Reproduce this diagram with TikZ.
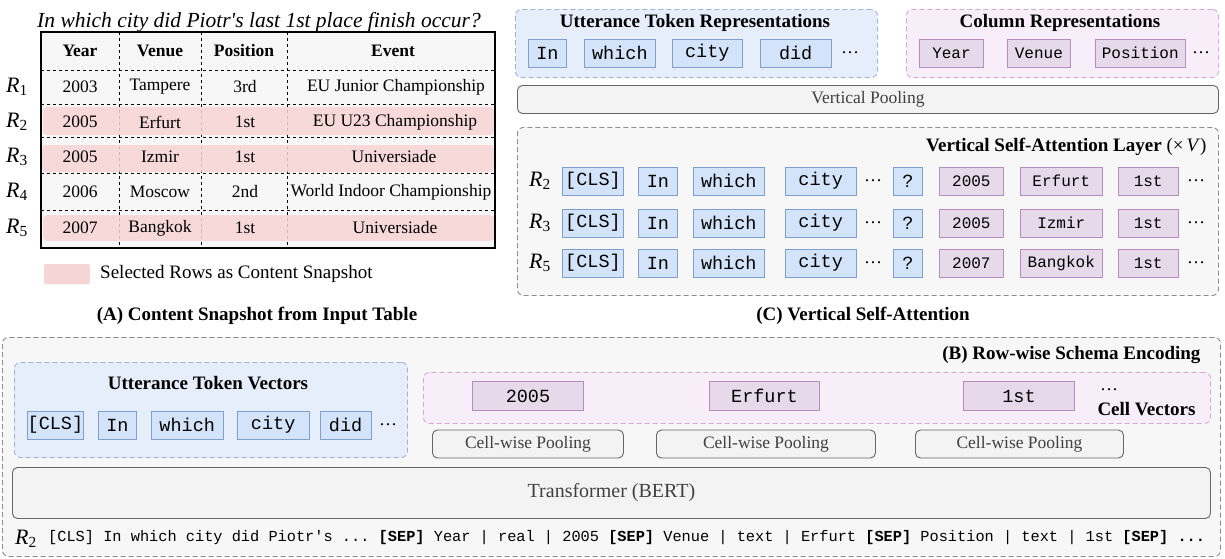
\documentclass[tikz,border=0pt]{standalone}
\usepackage{fontspec}
\setmainfont{Liberation Serif}
\setmonofont{Liberation Mono}
\usetikzlibrary{positioning}

\definecolor{grpblue}{HTML}{E6EEFB}
\definecolor{grpblueline}{HTML}{9DB4D8}
\definecolor{tokblue}{HTML}{D3E4FA}
\definecolor{tokblueline}{HTML}{7E9FCF}
\definecolor{grppink}{HTML}{F8EEFA}
\definecolor{grppinkline}{HTML}{D9A8CE}
\definecolor{tokpurple}{HTML}{E6D9E9}
\definecolor{tokpurpleline}{HTML}{B38EBF}
\definecolor{rowpink}{HTML}{F7D4D5}
\definecolor{poolgray}{HTML}{F3F3F3}

\begin{document}
\begin{tikzpicture}[x=1pt,y=-1pt,
node distance=15pt,
grp/.style={rounded corners=6pt,dash pattern=on 5pt off 3pt,line width=0.9pt,inner sep=0pt},
ugrp/.style={grp,draw=grpblueline,fill=grpblue},
cgrp/.style={grp,draw=grppinkline,fill=grppink},
ggrp/.style={grp,draw=black!45,fill=black!3},
utok/.style={draw=tokblueline,fill=tokblue,line width=0.9pt,minimum height=28pt,inner sep=0pt,font=\ttfamily\fontsize{18.5}{20}\selectfont},
ctok/.style={utok,draw=tokpurpleline,fill=tokpurple,font=\ttfamily\fontsize{16}{18}\selectfont},
pool/.style={draw=black!60,fill=poolgray,rounded corners=5pt,line width=0.9pt,inner sep=0pt,text=black!75,font=\fontsize{17.5}{20}\selectfont},
ttl/.style={font=\bfseries\fontsize{19}{21}\selectfont},
cell/.style={font=\fontsize{17.5}{20}\selectfont},
hcell/.style={font=\bfseries\fontsize{17.5}{20}\selectfont},
rlab/.style={font=\fontsize{22}{23}\selectfont},
dots/.style={font=\fontsize{18}{20}\selectfont},
tline/.style={dash pattern=on 3pt off 3pt,line width=1pt}]
\useasboundingbox (0,0) rectangle (1225,558);

% (A) content snapshot
\node[font=\itshape\fontsize{21.5}{23}\selectfont] (question) at (259,22) {In which city did Piotr\textquotesingle s last 1st place finish occur?};
\fill[black!3] (41,32) rectangle (495,248);
\draw[tline] (41,70) -- (495,70) (41,104) -- (495,104) (41,137) -- (495,137) (41,173) -- (495,173) (41,210) -- (495,210);
\draw[tline] (119,32) -- (119,248) (201,32) -- (201,248) (287,32) -- (287,248);
\fill[rowpink,opacity=0.85,rounded corners=4pt] (43,107) rectangle (494,135) (42,145) rectangle (494,172) (43,215) rectangle (494,241);
\draw[line width=1.2pt] (41,32) rectangle (495,248);
\node[hcell] (hyear) at (80,51) {Year};
\node[hcell] (hvenue) at (160,51) {Venue};
\node[hcell] (hpos) at (244,51) {Position};
\node[hcell] (hevent) at (393,51) {Event};
\node[rlab] (ra1) at (17,87) {\textit{R}\textsubscript{1}};
\node[cell] (y1) at (80,87) {2003};
\node[cell] (v1) at (160,87) {Tampere};
\node[cell] (p1) at (245,87) {3rd};
\node[cell] (e1) at (396,87) {EU Junior Championship};
\node[rlab] (ra2) at (17,122) {\textit{R}\textsubscript{2}};
\node[cell] (y2) at (80,122) {2005};
\node[cell] (v2) at (160,122) {Erfurt};
\node[cell] (p2) at (245,122) {1st};
\node[cell] (e2) at (395,122) {EU U23 Championship};
\node[rlab] (ra3) at (17,157) {\textit{R}\textsubscript{3}};
\node[cell] (y3) at (80,157) {2005};
\node[cell] (v3) at (160,157) {Izmir};
\node[cell] (p3) at (245,157) {1st};
\node[cell] (e3) at (394,157) {Universiade};
\node[rlab] (ra4) at (17,192) {\textit{R}\textsubscript{4}};
\node[cell] (y4) at (80,192) {2006};
\node[cell] (v4) at (160,192) {Moscow};
\node[cell] (p4) at (245,192) {2nd};
\node[cell] (e4) at (391,192) {World Indoor Championship};
\node[rlab] (ra5) at (17,228) {\textit{R}\textsubscript{5}};
\node[cell] (y5) at (80,228) {2007};
\node[cell] (v5) at (160,228) {Bangkok};
\node[cell] (p5) at (245,228) {1st};
\node[cell] (e5) at (395,228) {Universiade};
\node[fill=rowpink,rounded corners=2pt,minimum width=46pt,minimum height=20pt,inner sep=0pt] (legbox) at (67,274) {};
\node[right=6.5pt of legbox,font=\fontsize{19}{21}\selectfont] (legtext) {Selected Rows as Content Snapshot};
\node[ttl] (capa) at (257,316) {(A) Content Snapshot from Input Table};

% (C) vertical self-attention
\node[ugrp,minimum width=362pt,minimum height=68pt,anchor=north west] (utrep) at (515,9) {};
\node[ttl] (utreptitle) at (695,23) {Utterance Token Representations};
\node[utok,minimum width=38pt,anchor=west] (tin) at (528,53) {In};
\node[utok,minimum width=71pt,right=17pt of tin] (twhich) {which};
\node[utok,minimum width=70pt,right=16pt of twhich] (tcity) {city};
\node[utok,minimum width=71pt,right=17pt of tcity] (tdid) {did};
\node[dots] (tdots) at (850,53) {\dots};
\node[cgrp,minimum width=312pt,minimum height=68pt,anchor=north west] (colrep) at (906,9) {};
\node[ttl] (colreptitle) at (1060,23) {Column Representations};
\node[ctok,minimum width=64pt,anchor=west] (cyear) at (919,53) {Year};
\node[ctok,minimum width=63pt,right=23pt of cyear] (cvenue) {Venue};
\node[ctok,minimum width=90pt,right=24pt of cvenue] (cpos) {Position};
\node[dots] (cdots) at (1201,53) {\dots};
\node[pool,minimum width=701pt,minimum height=28pt,anchor=north west] (vpool) at (517,85) {Vertical Pooling};
\node[ggrp,minimum width=701pt,minimum height=168pt,anchor=north west] (vsa) at (517,127) {};
\node[anchor=east,font=\fontsize{19}{21}\selectfont] (vsatitle) at (1210,147) {\textbf{Vertical Self-Attention Layer} (×\,\textit{V})};
% row R2
\node[rlab] (rc2) at (540,181) {\textit{R}\textsubscript{2}};
\node[utok,minimum width=61pt,anchor=west] (cls2) at (562,181) {[CLS]};
\node[utok,minimum width=39pt,right=14pt of cls2] (in2) {In};
\node[utok,minimum width=71pt,right=15pt of in2] (which2) {which};
\node[utok,minimum width=71pt,right=20pt of which2] (city2) {city};
\node[dots] (ud2) at (873,181) {\dots};
\node[utok,minimum width=29pt,anchor=west] (q2) at (893,181) {?};
\node[ctok,minimum width=64pt,right=16pt of q2] (yr2) {2005};
\node[ctok,minimum width=82pt,right=16pt of yr2] (vn2) {Erfurt};
\node[ctok,minimum width=60pt,right=15pt of vn2] (ps2) {1st};
\node[dots] (cd2) at (1196,181) {\dots};
% row R3
\node[rlab] (rc3) at (540,223) {\textit{R}\textsubscript{3}};
\node[utok,minimum width=61pt,anchor=west] (cls3) at (562,223) {[CLS]};
\node[utok,minimum width=39pt,right=14pt of cls3] (in3) {In};
\node[utok,minimum width=71pt,right=15pt of in3] (which3) {which};
\node[utok,minimum width=71pt,right=20pt of which3] (city3) {city};
\node[dots] (ud3) at (873,223) {\dots};
\node[utok,minimum width=29pt,anchor=west] (q3) at (893,223) {?};
\node[ctok,minimum width=64pt,right=16pt of q3] (yr3) {2005};
\node[ctok,minimum width=82pt,right=16pt of yr3] (vn3) {Izmir};
\node[ctok,minimum width=60pt,right=15pt of vn3] (ps3) {1st};
\node[dots] (cd3) at (1196,223) {\dots};
% row R5
\node[rlab] (rc5) at (540,263) {\textit{R}\textsubscript{5}};
\node[utok,minimum width=61pt,anchor=west] (cls5) at (562,263) {[CLS]};
\node[utok,minimum width=39pt,right=14pt of cls5] (in5) {In};
\node[utok,minimum width=71pt,right=15pt of in5] (which5) {which};
\node[utok,minimum width=71pt,right=20pt of which5] (city5) {city};
\node[dots] (ud5) at (873,263) {\dots};
\node[utok,minimum width=29pt,anchor=west] (q5) at (893,263) {?};
\node[ctok,minimum width=64pt,right=16pt of q5] (yr5) {2007};
\node[ctok,minimum width=82pt,right=16pt of yr5] (vn5) {Bangkok};
\node[ctok,minimum width=60pt,right=15pt of vn5] (ps5) {1st};
\node[dots] (cd5) at (1196,263) {\dots};
\node[ttl] (capc) at (863,316) {(C) Vertical Self-Attention};

% (B) row-wise schema encoding
\node[ggrp,minimum width=1218pt,minimum height=219pt,anchor=north west] (rowenc) at (2,337) {};
\node[ttl,anchor=east] (btitle) at (1204,355) {(B) Row-wise Schema Encoding};
\node[ugrp,minimum width=393pt,minimum height=95pt,anchor=north west] (utvec) at (14,362) {};
\node[ttl] (utvectitle) at (208,383) {Utterance Token Vectors};
\node[utok,minimum width=56pt,anchor=west] (bcls) at (27,425) {[CLS]};
\node[utok,minimum width=38pt,right=14pt of bcls] (bin) {In};
\node[utok,minimum width=72pt,right=14pt of bin] (bwhich) {which};
\node[utok,minimum width=72pt,right=13pt of bwhich] (bcity) {city};
\node[utok,minimum width=51pt,right=10pt of bcity] (bdid) {did};
\node[dots] (bdots) at (388,425) {\dots};
\node[cgrp,minimum width=787pt,minimum height=51pt,anchor=north west] (cellvec) at (423,372) {};
\node[ctok,font=\ttfamily\fontsize{18.5}{20}\selectfont,minimum width=111pt,minimum height=29pt,anchor=west] (byear) at (472,396) {2005};
\node[ctok,font=\ttfamily\fontsize{18.5}{20}\selectfont,minimum width=110pt,minimum height=29pt,anchor=west] (bvenue) at (709,396) {Erfurt};
\node[ctok,font=\ttfamily\fontsize{18.5}{20}\selectfont,minimum width=111pt,minimum height=29pt,anchor=west] (bpos) at (963,396) {1st};
\node[dots] (celldots) at (1109,390) {\dots};
\node[ttl,anchor=east] (cellvectitle) at (1199,409) {Cell Vectors};
\node[pool,minimum width=191pt,minimum height=28pt,anchor=west] (pool1) at (432,444) {Cell-wise Pooling};
\node[pool,minimum width=219pt,minimum height=28pt,anchor=west] (pool2) at (656,444) {Cell-wise Pooling};
\node[pool,minimum width=208pt,minimum height=28pt,anchor=west] (pool3) at (915,444) {Cell-wise Pooling};
\node[pool,minimum width=1198pt,minimum height=51pt,anchor=north west,font=\fontsize{20}{22}\selectfont] (bert) at (12,467) {Transformer (BERT)};
\node[rlab] (rb2) at (26,539) {\textit{R}\textsubscript{2}};
\node[anchor=west,inner sep=0pt,font=\ttfamily\fontsize{15.3}{17}\selectfont] (seq) at (48,538) {[CLS] In which city did Piotr's ... \textbf{[SEP]} Year | real | 2005 \textbf{[SEP]} Venue | text | Erfurt \textbf{[SEP]} Position | text | 1st \textbf{[SEP] ...}};
\end{tikzpicture}
\end{document}
